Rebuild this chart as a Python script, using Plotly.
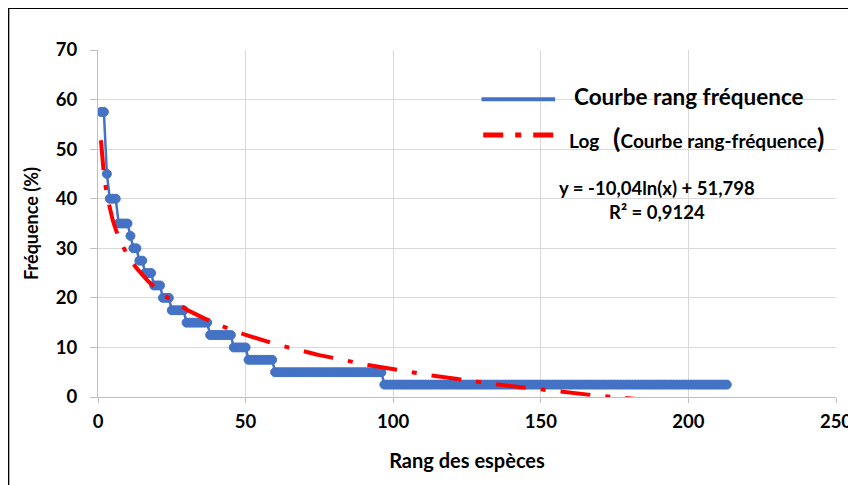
import numpy as np
import plotly.graph_objects as go

# ---- data ----
freq_levels = [57.5, 45, 40, 35, 32.5, 30, 27.5, 25, 22.5, 20, 17.5, 15, 12.5, 10, 7.5, 5, 2.5]
species_per_level = [2, 1, 3, 4, 1, 2, 2, 3, 3, 3, 5, 8, 8, 5, 9, 37, 117]
trend_slope = -10.04
trend_intercept = 51.798
trend_r2 = 0.9124
x_ticks = [0, 50, 100, 150, 200, 250]
y_ticks = [0, 10, 20, 30, 40, 50, 60, 70]

frequence = np.repeat(freq_levels, species_per_level)
rang = np.arange(1, len(frequence) + 1)
trend = trend_slope * np.log(rang) + trend_intercept

BLUE = "#4472C4"
RED = "#FF0000"
FONT = "Lato"

fig = go.Figure()
fig.add_trace(go.Scatter(
    x=rang, y=frequence, mode="lines+markers",
    line=dict(color=BLUE, width=2.5),
    marker=dict(color=BLUE, size=9, line=dict(color=BLUE, width=1)),
    name="Courbe rang fréquence", showlegend=False, hoverinfo="x+y"))
fig.add_trace(go.Scatter(
    x=rang, y=trend, mode="lines",
    line=dict(color=RED, width=4, dash="30px,15px,5px,15px"),
    name="Log (Courbe rang-fréquence)", showlegend=False))

# page body has an 8px margin, so margins are shifted by 8px
fig.update_layout(
    width=856, height=485,
    margin=dict(l=90, r=25, t=42, b=96),
    paper_bgcolor="white", plot_bgcolor="white",
    font=dict(family=FONT, color="black", size=18.5),
)
fig.update_xaxes(
    range=[0, 250], tickvals=x_ticks, ticktext=[f"<b>{v}</b>" for v in x_ticks],
    showgrid=True, gridcolor="#D9D9D9", gridwidth=1,
    showline=True, linecolor="#BFBFBF", linewidth=1,
    ticks="outside", ticklen=5, tickcolor="#BFBFBF",
    ticklabelstandoff=3, zeroline=False,
    title=dict(text="<b>Rang des espèces</b>", font=dict(size=20), standoff=22),
)
fig.update_yaxes(
    range=[0, 70], tickvals=y_ticks, ticktext=[f"<b>{v}</b>" for v in y_ticks],
    showgrid=True, gridcolor="#D9D9D9", gridwidth=1,
    showline=True, linecolor="#BFBFBF", linewidth=1,
    ticks="outside", ticklen=7, tickcolor="#BFBFBF",
    ticklabelstandoff=9, zeroline=False,
    title=dict(text="<b>Fréquence (%)</b>", font=dict(size=18), standoff=12),
)

# outer chart border (extends past right/bottom edges of the crop)
fig.add_shape(type="rect", xref="paper", yref="paper",
              x0=-0.1215, x1=1.06, y0=-0.3, y1=1.121,
              line=dict(color="black", width=2), fillcolor="rgba(0,0,0,0)", layer="above")

# manual legend
fig.add_shape(type="line", xref="paper", yref="paper",
              x0=0.5196, x1=0.6194, y0=0.858, y1=0.858,
              line=dict(color=BLUE, width=4))
fig.add_shape(type="line", xref="paper", yref="paper",
              x0=0.522, x1=0.6194, y0=0.755, y1=0.755,
              line=dict(color=RED, width=5, dash="20px,12px,6px,12px"))
fig.add_annotation(xref="paper", yref="paper", x=0.642, y=0.8654,
                   xanchor="left", yanchor="middle", showarrow=False,
                   text="<b>Courbe rang fréquence</b>", font=dict(size=22.5))
fig.add_annotation(xref="paper", yref="paper", x=0.636, y=0.748,
                   xanchor="left", yanchor="middle", showarrow=False,
                   text="<b>Log   <span style='font-size:27px'>(</span>"
                        "<span style='font-size:19px'>Courbe rang-fréquence</span>"
                        "<span style='font-size:27px'>)</span></b>",
                   font=dict(size=19))

eq = f"y = {trend_slope:.2f}ln(x) + {trend_intercept:.3f}".replace(".", ",")
r2 = f"R² = {trend_r2:.4f}".replace(".", ",")
fig.add_annotation(xref="paper", yref="paper", x=0.758, y=(397 - 188) / 347,
                   xanchor="center", yanchor="middle", showarrow=False,
                   text=f"<b>{eq}</b>", font=dict(size=18.5))
fig.add_annotation(xref="paper", yref="paper", x=0.758, y=(397 - 212) / 347,
                   xanchor="center", yanchor="middle", showarrow=False,
                   text=f"<b>{r2}</b>", font=dict(size=18.5))

fig.write_html("out.html")
